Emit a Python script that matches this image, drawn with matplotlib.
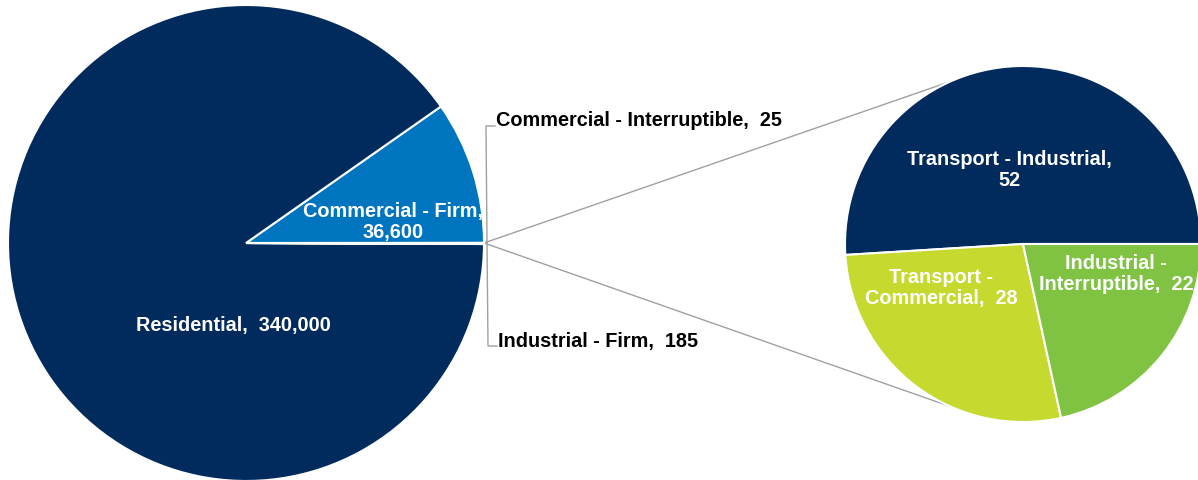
import matplotlib.pyplot as plt
import numpy as np

plt.rcParams['font.family'] = ['Liberation Sans', 'DejaVu Sans']

# main pie: "Other" (sum of secondary) first so it sits at 3 o'clock
main_labels = ['Other', 'Commercial - Firm', 'Residential',
               'Commercial - Interruptible', 'Industrial - Firm']
main_values = [102, 36600, 340000, 25, 185]
main_colors = ['#002b5c', '#0075bf', '#002b5c', '#002b5c', '#002b5c']

# secondary pie
sub_labels = ['Transport - Industrial', 'Transport - Commercial', 'Industrial - Interruptible']
sub_values = [52, 28, 22]
sub_colors = ['#002b5c', '#c6d92e', '#80c342']

W, H = 1198, 481
fig = plt.figure(figsize=(W / 100, H / 100), dpi=100)
ax = fig.add_axes([0, 0, 1, 1])

c1, r1 = (246, H - 244), 238
c2, r2 = (1023, H - 245), 178

total = sum(main_values)
start = -main_values[0] / total * 360 / 2
ax.pie(main_values, colors=main_colors, center=c1, radius=r1, startangle=start,
       counterclock=True, wedgeprops=dict(edgecolor='white', linewidth=1.5), frame=True)
ax.pie(sub_values, colors=sub_colors, center=c2, radius=r2, startangle=0,
       counterclock=True, wedgeprops=dict(edgecolor='white', linewidth=1.5), frame=True)
ax.set_xlim(0, W)
ax.set_ylim(0, H)
ax.set_aspect('equal')
ax.axis('off')

# connector lines from main pie edge to secondary pie
p0 = (c1[0] + r1, c1[1])
for ang in (114, 246):
    a = np.radians(ang)
    ax.plot([p0[0], c2[0] + r2 * np.cos(a)], [p0[1], c2[1] + r2 * np.sin(a)],
            color='#a0a0a0', lw=1, zorder=0.5)

# leader lines for the tiny slices
ax.plot([487, 486, 495], [H - 243, H - 127, H - 127], color='#a0a0a0', lw=1)
ax.plot([487, 488, 497], [H - 243, H - 347, H - 347], color='#a0a0a0', lw=1)

fs = 14.3
ls = 1.1
ax.text(496, H - 120, f'{main_labels[3]},  {main_values[3]}', fontsize=fs,
        fontweight='bold', color='black', va='center', ha='left')
ax.text(498, H - 341, f'{main_labels[4]},  {main_values[4]}', fontsize=fs,
        fontweight='bold', color='black', va='center', ha='left')

ax.text(393, H - 222, f'{main_labels[1]},\n{main_values[1]:,}', fontsize=fs,
        fontweight='bold', color='white', ha='center', va='center', linespacing=ls)
ax.text(233, H - 325, f'{main_labels[2]},  {main_values[2]:,}', fontsize=fs,
        fontweight='bold', color='white', ha='center', va='center')

ax.text(1009, H - 170, f'{sub_labels[0]},\n{sub_values[0]}', fontsize=fs,
        fontweight='bold', color='white', ha='center', va='center', linespacing=ls)
ax.text(941, H - 288, f'Transport -\nCommercial,  {sub_values[1]}', fontsize=fs,
        fontweight='bold', color='white', ha='center', va='center', linespacing=ls)
ax.text(1116, H - 274, f'Industrial -\nInterruptible,  {sub_values[2]}', fontsize=fs,
        fontweight='bold', color='white', ha='center', va='center', linespacing=ls)

fig.savefig('out.png', dpi=100)
